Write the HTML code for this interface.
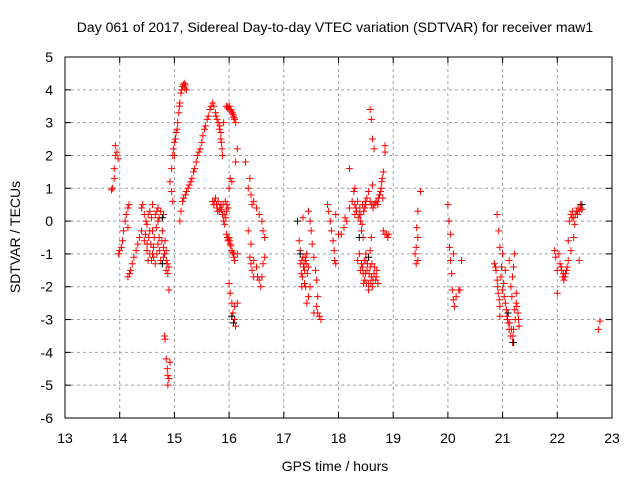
<!DOCTYPE html>
<html><head><meta charset="utf-8"><style>
body{margin:0;background:#fff}
svg text{font-family:"Liberation Sans",sans-serif;font-size:14px;fill:#000}
</style></head><body>
<svg id="chart" width="640" height="480" viewBox="0 0 640 480" xmlns="http://www.w3.org/2000/svg">
<rect width="640" height="480" fill="#fff"/>
<text x="335" y="32" text-anchor="middle">Day 061 of 2017, Sidereal Day-to-day VTEC variation (SDTVAR) for receiver maw1</text>
<g id="grid"></g>
<g id="ticks"></g>
<g id="marks"></g>
<rect x="65" y="57" width="547" height="361" fill="none" stroke="#000" stroke-width="1"/>
<text x="335" y="471" text-anchor="middle">GPS time / hours</text>
<text transform="translate(20,237) rotate(-90)" text-anchor="middle">SDTVAR / TECUs</text>
</svg>
<script>
const xTicks=[13,14,15,16,17,18,19,20,21,22,23];
const yTicks=[5,4,3,2,1,0,-1,-2,-3,-4,-5,-6];
const redPoints=[
[13.85,0.95],[13.87,1.0],[13.9,1.3],[13.9,1.6],[13.92,2.0],[13.92,2.3],[13.95,2.1],[13.97,1.9],
[13.98,-1.0],[14.0,-0.9],[14.03,-0.8],[14.05,-0.6],[14.07,-0.3],[14.1,0.0],[14.12,0.2],[14.15,0.4],[14.17,0.5],[14.15,-0.2],
[14.15,-1.7],[14.18,-1.6],[14.2,-1.5],[14.23,-1.3],[14.26,-1.1],[14.3,-0.9],[14.33,-0.7],[14.36,-0.5],[14.4,-0.3],[14.4,0.4],[14.42,0.5],[14.45,0.2],[14.48,0.0],
[14.45,-0.6],[14.5,-0.9],[14.52,-1.2],[14.55,-1.0],[14.55,0.3],[14.58,0.1],[14.6,-0.3],[14.62,-0.8],[14.62,-1.1],[14.65,-1.3],[14.68,-1.0],[14.7,0.4],[14.7,0.0],[14.72,-0.5],[14.75,-1.2],[14.75,0.3],[14.78,-0.3],[14.8,-0.8],[14.8,0.2],[14.82,-1.0],[14.85,-1.2],[14.85,-1.5],[14.88,-1.6],[14.9,-1.4],[14.6,0.5],[14.5,-0.1],
[14.47,-0.4],[14.5,-0.7],[14.53,-0.5],[14.57,-0.7],[14.6,-1.0],[14.63,-0.5],[14.65,0.2],[14.67,-0.2],[14.7,-0.7],[14.73,-0.9],[14.77,-0.6],[14.8,-1.1],[14.83,-0.6],[14.85,-0.9],[14.87,-1.3],[14.68,0.3],[14.72,0.1],[14.58,-1.2],[14.52,0.2],[14.55,-0.3],
[14.82,-3.5],[14.83,-3.6],[14.85,-4.2],[14.87,-4.5],[14.88,-4.7],[14.9,-4.8],[14.88,-5.0],[14.92,-4.3],[14.9,-2.1],[14.95,0.9],[14.97,0.6],
[14.92,1.2],[14.95,1.6],[14.97,2.0],[15.0,2.4],[15.03,2.7],[15.06,3.0],[15.08,3.3],[15.1,3.6],[15.12,3.9],[15.15,4.1],[15.18,4.2],[15.2,4.15],[15.22,4.0],[15.0,2.0],
[15.02,2.5],[15.05,2.8],[15.09,3.5],[15.13,4.0],[15.16,4.15],[15.19,4.05],[14.98,2.2],
[15.1,0.0],[15.12,0.3],[15.15,0.6],[15.2,0.8],[15.25,1.0],[15.3,1.2],[15.35,1.5],[15.4,1.8],[15.45,2.1],[15.5,2.4],[15.55,2.8],[15.6,3.1],[15.65,3.4],[15.7,3.6],[15.72,3.5],[15.75,3.3],[15.78,3.1],[15.8,3.0],[15.82,2.8],[15.85,2.5],[15.87,2.2],[15.88,2.0],[15.85,2.7],[15.9,3.0],
[15.17,0.7],[15.22,0.9],[15.27,1.1],[15.32,1.3],[15.37,1.6],[15.42,2.0],[15.47,2.2],[15.52,2.6],[15.57,2.9],[15.62,3.2],[15.67,3.5],[15.76,3.2],[15.83,2.9],[15.86,2.4],
[15.95,3.5],[15.98,3.5],[16.0,3.4],[16.03,3.4],[16.06,3.3],[16.08,3.2],[16.1,3.1],[16.12,3.0],[16.15,2.2],[16.12,1.8],
[15.97,3.45],[16.01,3.5],[16.04,3.35],[16.07,3.25],[16.09,3.15],
[15.7,0.6],[15.72,0.5],[15.75,0.7],[15.78,0.4],[15.8,0.6],[15.82,0.3],[15.85,0.5],[15.88,0.2],[15.9,0.0],[15.92,-0.1],[15.95,0.3],[15.98,0.4],[15.93,0.6],
[15.73,0.6],[15.77,0.5],[15.79,0.3],[15.83,0.4],[15.86,0.35],[15.89,0.5],[15.91,0.2],[15.94,0.1],[15.96,0.5],
[15.95,-0.4],[15.98,-0.6],[16.0,-0.5],[16.02,-0.7],[16.05,-0.9],[16.08,-1.0],[16.1,-1.2],[16.0,1.0],[16.02,1.3],[16.05,1.2],[16.0,-1.9],[16.02,-2.2],[16.05,-2.5],[16.07,-2.8],[16.1,-3.0],[16.12,-3.2],[16.1,-2.6],[16.15,-2.5],[16.15,-1.0],
[15.97,-0.5],[15.99,-0.55],[16.01,-0.6],[16.03,-0.75],[16.06,-0.95],[16.09,-1.1],
[16.3,1.8],[16.35,1.0],[16.38,1.3],[16.4,0.8],[16.42,0.5],[16.45,0.6],[16.5,0.4],[16.55,0.2],[16.6,0.0],[16.62,-0.3],[16.65,-0.5],[16.35,-0.3],[16.38,-1.1],[16.4,-1.3],[16.42,-1.5],[16.45,-1.2],[16.5,-1.4],[16.52,-1.7],[16.55,-1.8],[16.58,-2.0],[16.6,-1.7],[16.62,-1.3],[16.65,-1.1],[16.45,-1.7],[16.4,-0.7],
[17.28,-0.6],[17.3,-0.9],[17.3,-1.3],[17.32,-1.6],[17.33,-2.0],[17.35,-1.1],[17.37,-1.3],[17.38,-1.5],[17.4,-1.2],[17.42,-1.0],[17.45,-1.4],[17.45,-2.3],[17.48,-2.0],[17.4,-2.0],[17.42,-2.5],[17.35,0.1],[17.45,0.3],[17.48,0.0],[17.5,-0.3],[17.52,-0.7],[17.55,-1.1],[17.6,-1.8],[17.6,-2.6],[17.62,-2.8],[17.65,-2.9],[17.68,-3.0],[17.62,-2.3],[17.58,-1.5],[17.55,-2.8],
[17.33,-1.2],[17.36,-1.4],[17.39,-1.1],[17.41,-1.3],[17.43,-1.6],[17.38,-1.9],[17.34,-1.7],
[17.8,0.5],[17.82,0.3],[17.85,0.0],[17.87,-0.3],[17.9,-0.6],[17.92,-0.9],[17.93,-1.2],[17.95,-1.3],[17.95,0.2],
[18.0,-0.4],[18.05,-0.4],[18.1,-0.2],[18.12,0.1],[18.15,0.0],[18.2,0.4],[18.25,0.6],[18.28,0.9],[18.3,1.0],[18.2,1.6],[18.3,0.2],
[18.3,0.5],[18.33,0.3],[18.35,0.6],[18.38,0.2],[18.4,0.0],[18.42,-0.3],[18.45,-0.5],[18.48,0.4],[18.5,0.5],[18.52,0.7],[18.35,-1.2],[18.38,-1.0],[18.4,-1.5],
[18.32,0.4],[18.36,0.1],[18.39,0.4],[18.41,0.2],[18.43,-0.1],[18.46,0.3],[18.49,0.6],[18.44,0.5],
[18.42,-1.3],[18.45,-1.6],[18.48,-1.8],[18.5,-1.2],[18.52,-1.5],[18.55,-1.9],[18.58,-1.4],[18.6,-1.7],[18.62,-2.0],[18.65,-1.6],[18.68,-1.8],[18.7,-1.5],[18.72,-1.9],[18.55,-2.1],[18.5,-1.0],
[18.44,-1.4],[18.47,-1.2],[18.49,-1.6],[18.51,-1.9],[18.53,-1.3],[18.56,-1.6],[18.59,-1.9],[18.61,-1.3],[18.63,-1.8],[18.66,-1.4],[18.69,-1.7],[18.46,-1.9],
[18.55,0.9],[18.58,0.6],[18.6,0.5],[18.63,0.4],[18.65,0.5],[18.7,0.6],[18.75,0.8],[18.78,1.0],[18.8,1.3],[18.82,1.5],[18.58,3.4],[18.6,3.1],[18.62,2.5],[18.65,2.2],[18.85,2.3],[18.85,2.1],[18.62,1.1],[18.6,-0.5],[18.58,-0.9],
[18.67,0.55],[18.72,0.5],[18.77,0.9],[18.79,1.2],[18.81,0.7],[18.73,0.7],
[18.82,-0.3],[18.85,-0.4],[18.88,-0.4],[18.9,-0.5],[18.92,-0.4],
[19.45,0.3],[19.43,-0.2],[19.45,-0.5],[19.42,-0.8],[19.4,-1.0],[19.42,-1.3],[19.45,-1.2],[19.5,0.9],
[20.0,0.5],[20.02,0.0],[20.05,-0.4],[20.03,-0.8],[20.05,-1.2],[20.07,-1.6],[20.08,-2.1],[20.1,-2.4],[20.12,-2.6],[20.15,-2.3],[20.2,-2.1],[20.25,-1.2],[20.22,-2.1],[20.1,-1.0],
[20.85,-1.3],[20.88,-1.5],[20.9,-1.8],[20.92,-2.2],[20.95,-2.6],[20.95,-2.9],[20.9,0.2],[20.93,-0.3],[20.95,-0.8],[20.98,-1.4],[21.0,-1.0],[21.02,-1.9],[21.05,-1.5],[21.05,-2.5],[21.08,-2.9],[21.1,-3.1],[21.12,-3.3],[21.15,-3.5],[21.18,-3.7],[21.2,-3.3],[21.22,-2.7],[21.25,-2.5],[21.28,-2.8],[21.3,-3.2],[21.15,-2.0],[21.12,-1.2],[21.18,-1.7],[21.22,-1.0],[21.25,-2.2],
[20.87,-1.4],[20.91,-2.0],[20.94,-2.4],[20.97,-1.7],[21.0,-2.1],[21.03,-2.3],[21.07,-2.7],[21.09,-3.0],[21.13,-3.1],[21.16,-3.3],[21.19,-3.5],[21.23,-3.0],[21.26,-2.6],[21.29,-3.0],[21.2,-1.4],[21.17,-2.3],
[21.95,-0.9],[21.97,-1.1],[22.0,-1.5],[22.0,-2.2],[22.03,-1.0],[22.05,-1.3],[22.08,-1.5],[22.1,-1.7],[22.12,-1.8],[22.15,-1.6],[22.18,-1.4],[22.2,-1.2],[22.2,-0.6],[22.22,0.0],[22.25,0.2],[22.28,0.3],[22.3,0.1],[22.32,-0.1],[22.35,0.3],[22.38,0.4],[22.4,0.3],[22.42,0.5],[22.45,0.35],[22.3,-0.5],[22.4,-1.2],[22.25,-0.9],
[22.07,-1.4],[22.11,-1.6],[22.14,-1.7],[22.17,-1.5],[22.27,0.1],[22.33,0.2],[22.37,0.2],[22.43,0.4],
[22.75,-3.3],[22.78,-3.05]
];
const blackPoints=[[14.78,0.1],[14.78,-1.3],[16.05,-2.9],[16.08,-3.1],[17.25,0.0],[17.3,-1.0],[18.38,-0.5],[18.55,-1.1],[21.1,-2.8],[21.2,-3.7],[22.45,0.5]];

const X0=13,X1=23,Y0=-6,Y1=5,PL=65,PR=612,PT=57,PB=418;
function sx(v){return PL+(v-X0)/(X1-X0)*(PR-PL);}
function sy(v){return PB-(v-Y0)/(Y1-Y0)*(PB-PT);}
const NS='http://www.w3.org/2000/svg';
function mk(tag,attrs,parent){const e=document.createElementNS(NS,tag);for(const k in attrs)e.setAttribute(k,attrs[k]);parent.appendChild(e);return e;}
const grid=document.getElementById('grid'),ticks=document.getElementById('ticks'),marks=document.getElementById('marks');
xTicks.forEach(t=>{const x=sx(t);
 if(t>X0&&t<X1){const g=mk('line',{x1:x,x2:x,y1:PT,y2:PB,stroke:'#a0a0a0','stroke-dasharray':'3,3'},grid);
 
 }
 mk('line',{x1:x,x2:x,y1:PB,y2:PB-6,stroke:'#000'},ticks);mk('line',{x1:x,x2:x,y1:PT,y2:PT+6,stroke:'#000'},ticks);
 const l=mk('text',{x:x,y:443,'text-anchor':'middle'},ticks);l.textContent=t;
 
 
});
yTicks.forEach(t=>{const y=sy(t);
 if(t>Y0&&t<Y1){const g=mk('line',{x1:PL,x2:PR,y1:y,y2:y,stroke:'#a0a0a0','stroke-dasharray':'3,3'},grid);
 
 }
 mk('line',{x1:PL,x2:PL+6,y1:y,y2:y,stroke:'#000'},ticks);mk('line',{x1:PR,x2:PR-6,y1:y,y2:y,stroke:'#000'},ticks);
 const l=mk('text',{x:53,y:y+5,'text-anchor':'end'},ticks);l.textContent=t;
 
 
});
function plus(p,color,name){const x=sx(p[0]),y=sy(p[1]);
 const e=mk('path',{d:`M${x-3.5},${y}H${x+3.5}M${x},${y-3.5}V${y+3.5}`,stroke:color,'stroke-width':1,fill:'none'},marks);
 
 
}
redPoints.forEach(p=>plus(p,'#ff0000','sdtvar-point'));
blackPoints.forEach(p=>plus(p,'#000000','sdtvar-point-alt'));
</script>
</body></html>
